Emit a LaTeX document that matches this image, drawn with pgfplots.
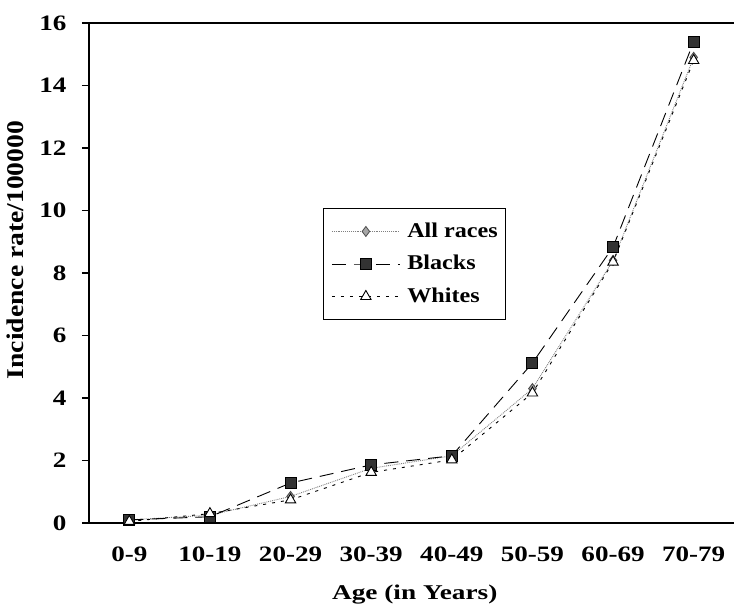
\documentclass[border=0pt]{standalone}
\usepackage{fontspec}
\setmainfont{Liberation Serif}[FakeStretch=1.15]
\usepackage{pgfplots}
\pgfplotsset{compat=1.18}
\begin{document}
\begin{tikzpicture}[x=1pt,y=1pt]
\path[use as bounding box] (-89,-89) rectangle (645,23+500);
\begin{axis}[
  at={(0,0)}, anchor=south west,
  scale only axis, width=645pt, height=500pt,
  xmin=-0.5, xmax=7.5, ymin=0, ymax=16,
  axis x line*=bottom, axis y line*=left,
  axis line style={line width=1.3pt,-},
  xtick={0,...,7},
  xticklabels={0-9,10-19,20-29,30-39,40-49,50-59,60-69,70-79},
  minor xtick={-0.5,0.5,...,7.5},
  xtick style={draw=none},
  minor x tick style={line width=1.1pt, black},
  ytick={0,2,...,16},
  y tick style={line width=1.1pt, black},
  tick align=outside,
  major tick length=7pt, minor tick length=7pt,
  ticklabel style={font=\fontsize{22}{24}\selectfont\bfseries, xscale=1.07},
  /pgf/number format/assume math mode=true,
  xticklabel style={yshift=-13pt},
  yticklabel style={xshift=-11pt},
  xlabel={Age (in Years)}, ylabel={Incidence rate/100000},
  xlabel style={font=\fontsize{21}{24}\selectfont\bfseries, xscale=1.13,
    at={(axis description cs:0.505,-0.144)}, anchor=center},
  ylabel style={font=\fontsize{24}{26}\selectfont\bfseries,
    at={(axis description cs:-0.115,0.546)}, anchor=center},
  legend style={at={(axis cs:2.402,10.08)}, anchor=north west,
    font=\fontsize{21}{24}\selectfont\bfseries, draw=black, line width=1pt,
    row sep=10.5pt, column sep=7pt, inner xsep=8pt, inner ysep=12pt,
    nodes={inner xsep=0pt, inner ysep=2pt, text height=15pt, text depth=3pt},
    cells={anchor=west}},
  legend image code/.code={\draw[mark repeat=2,mark phase=2,line width=0.8pt] plot coordinates {(0pt,0pt) (34pt,0pt) (68pt,0pt)};},
  clip=false,
]
\draw[line width=1.3pt] (rel axis cs:0,1) -- (rel axis cs:1,1);
\addplot[color=gray, line width=0.9pt, densely dotted, mark=diamond*,
  mark size=5pt, mark options={solid, fill=gray!70, draw=gray!60!black}]
  coordinates {(0,0.1) (1,0.25) (2,0.85) (3,1.75) (4,2.15) (5,4.3) (6,8.4) (7,14.9)};
\addlegendentry{All races}
\addplot[color=black, line width=0.9pt, dash pattern=on 14pt off 8pt, mark=square*,
  mark size=5.5pt, mark options={solid, fill=gray!40!black, draw=black}]
  coordinates {(0,0.1) (1,0.2) (2,1.28) (3,1.86) (4,2.15) (5,5.12) (6,8.83) (7,15.4)};
\addlegendentry{Blacks}
\addplot[color=black, line width=0.9pt, dash pattern=on 3pt off 6pt, mark=triangle*,
  mark size=6pt, mark options={solid, fill=white, draw=black, line width=0.9pt}]
  coordinates {(0,0.05) (1,0.3) (2,0.74) (3,1.62) (4,2.02) (5,4.16) (6,8.35) (7,14.8)};
\addlegendentry{Whites}
\end{axis}
\end{tikzpicture}
\end{document}
